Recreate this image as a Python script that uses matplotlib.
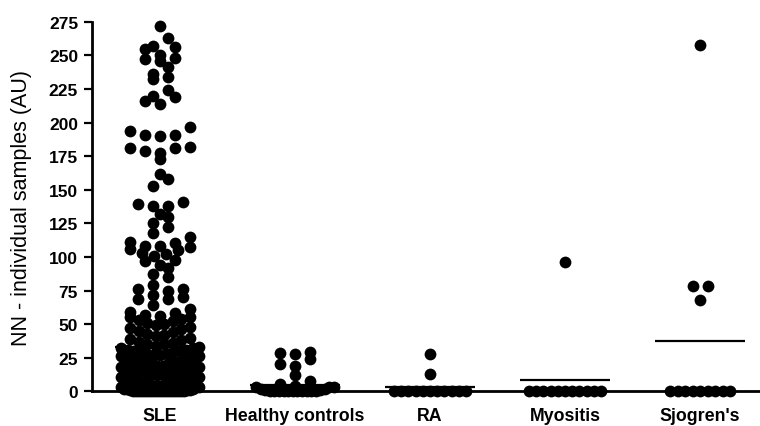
import numpy as np
import matplotlib
matplotlib.use('Agg')
import matplotlib.pyplot as plt

plt.rcParams['font.family'] = ['Liberation Sans', 'DejaVu Sans']

categories = ['SLE', 'Healthy controls', 'RA', 'Myositis', "Sjogren's"]

sle = [272, 263, 257, 256, 255, 250, 248, 247, 246, 241, 236, 234, 232, 224, 220,
       219, 216, 214, 197, 194, 191, 191, 190, 182, 181, 181, 179, 177, 173, 162,
       158, 153, 141, 139, 138, 138, 132, 130, 125, 122, 118, 115, 111, 110, 108,
       108, 107, 106, 105, 103, 102, 101, 98, 97, 94, 92, 87, 85, 79, 76, 76, 75,
       72, 70, 69, 69, 64,
       61, 59, 58, 57, 56, 55, 55, 54, 53, 52, 51, 50, 49, 48, 47, 46, 45, 44,
       43, 42, 41, 40, 39, 38, 37, 36, 35, 35, 34, 33,
       0, 0, 0, 0, 0, 0, 0, 0, 0, 0, 0, 0, 0, 0, 0, 0, 0, 0,
       1, 1, 1, 2, 2, 2, 3, 3, 3, 4, 4, 4, 5, 5, 5, 6, 6, 6, 7, 7, 7, 8, 8, 8,
       9, 9, 10, 10, 10, 11, 11, 12, 12, 13, 13, 14, 14, 15, 15, 16, 16, 17, 17,
       18, 18, 19, 19, 20, 20, 21, 21, 22, 22, 23, 23, 24, 24, 25, 25, 26, 26,
       27, 27, 28, 28, 29, 29, 30, 30, 31, 31, 32, 32]
healthy = [0, 0, 0, 0, 0, 0, 0, 0, 0, 0, 0, 1, 1, 2, 2, 3, 3, 3, 4,
           5.5, 7.7, 12.1, 19, 20.3, 24, 27.7, 28.5, 29]
ra = [0, 0, 0, 0, 0, 0, 0, 0, 0, 0, 0, 13, 28]
myositis = [0, 0, 0, 0, 0, 0, 0, 0, 0, 0, 0, 96]
sjogren = [0, 0, 0, 0, 0, 0, 0, 0, 0, 68, 78, 78, 258]
group_means = [33, 4.7, 3, 8.5, 37.5]
y_ticks = [0, 25, 50, 75, 100, 125, 150, 175, 200, 225, 250, 275]

groups = [sle, healthy, ra, myositis, sjogren]

W, H = 760, 427
fig = plt.figure(figsize=(W / 100, H / 100), dpi=100)
ax = fig.add_axes([92 / W, 1 - 392.3 / H, 668 / W, (392.3 - 22.7) / H])
ax.set_xlim(-0.504, 4.444)
ax.set_ylim(0, 275)

p0 = ax.transData.transform((0, 0))
p1 = ax.transData.transform((1, 1))
sx, sy = p1[0] - p0[0], p1[1] - p0[1]


def column_offsets(values, dot_px=10, max_step=15, min_step=7.2, nat_w=60, max_w=78):
    vals = np.asarray(values, float)
    bins = np.floor(vals * sy / dot_px + 0.5).astype(int)
    offs = np.zeros(len(vals))
    for b in np.unique(bins):
        idx = np.where(bins == b)[0]
        idx = idx[np.argsort(vals[idx], kind='stable')]
        n = len(idx)
        if n == 1:
            continue
        step = min(max_step, max(min_step, nat_w / (n - 1)), max_w / (n - 1))
        slots = (np.arange(n) - (n - 1) / 2) * step
        order = np.argsort(np.abs(slots), kind='stable')
        for k, i in enumerate(idx):
            offs[i] = slots[order[k]]
    return offs / sx


for i, vals in enumerate(groups):
    offs = column_offsets(vals)
    ax.scatter(i + offs, vals, s=72, c='black', linewidths=0,
               clip_on=False, zorder=3)
    ax.hlines(group_means[i], i - 0.333, i + 0.333, color='black',
              lw=1.6, zorder=2)

for side in ['top', 'right']:
    ax.spines[side].set_visible(False)
for side in ['left', 'bottom']:
    ax.spines[side].set_linewidth(2)

ax.set_yticks(y_ticks)
ax.set_yticklabels([str(t) for t in y_ticks], fontsize=12.5, fontweight='bold')
ax.set_xticks(range(len(categories)))
ax.set_xticklabels(categories, fontsize=12.8, fontweight='bold')
ax.tick_params(axis='y', direction='out', length=6, width=1.6, pad=4)
ax.tick_params(axis='x', direction='out', length=3, width=1.6, pad=8)

ax.set_ylabel('NN - individual samples (AU)', fontsize=15.5)
ax.yaxis.set_label_coords(-0.090, 0.5)

fig.savefig('out.png', dpi=100)
